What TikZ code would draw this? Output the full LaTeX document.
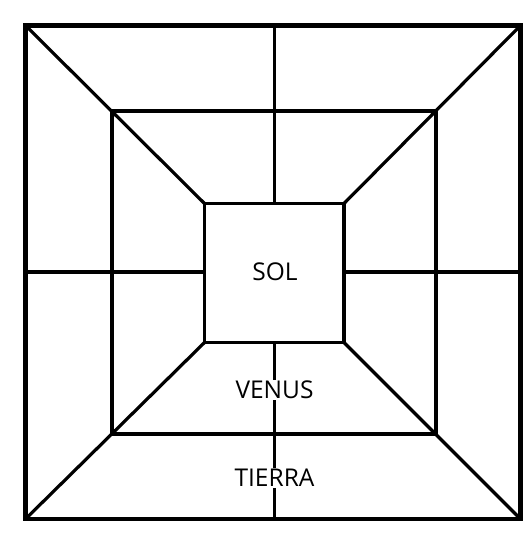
\documentclass[tikz,border=0pt]{standalone}
\usepackage{fontspec}
\setmainfont{Open Sans}
\begin{document}
\begin{tikzpicture}[x=1pt,y=-1pt,
  outer/.style={line width=4.5pt},
  thin/.style={line width=3.2pt},
  lbl/.style={font=\fontsize{24.5}{26}\selectfont, fill=white, inner sep=1pt}]
\useasboundingbox (0,0) rectangle (531,534);
% outer square corners
\coordinate (O1) at (25.5,25.5);
\coordinate (O2) at (520.5,25.5);
\coordinate (O3) at (520.5,519);
\coordinate (O4) at (25.5,519);
% middle square
\coordinate (M1) at (112,111);
\coordinate (M2) at (436,111);
\coordinate (M3) at (436,434);
\coordinate (M4) at (112,434);
% inner square
\coordinate (I1) at (204.5,203.5);
\coordinate (I2) at (344,203.5);
\coordinate (I3) at (344,342.5);
\coordinate (I4) at (204.5,342.5);
% midpoints
\coordinate (Ot) at (274.5,25.5);
\coordinate (Ob) at (274.5,519);
\coordinate (It) at (274.5,203.5);
\coordinate (Ib) at (274.5,342.5);
\coordinate (Ol) at (25.5,272);
\coordinate (Or) at (520.5,272);
\coordinate (Il) at (204.5,272);
\coordinate (Ir) at (344,272);
% diagonals
\draw[thin] (O1) -- (I1);
\draw[thin] (O2) -- (I2);
\draw[thin] (O3) -- (I3);
\draw[thin] (O4) -- (I4);
% cross lines
\draw[thin] (Ot) -- (It);
\draw[thin] (Ib) -- (Ob);
\draw[thin] (Ol) -- (Il);
\draw[thin] (Ir) -- (Or);
% squares
\draw[thin] (M1) -- (M2) -- (M3) -- (M4) -- cycle;
\draw[thin, fill=white] (I1) -- (I2) -- (I3) -- (I4) -- cycle;
\draw[outer] (O1) -- (O2) -- (O3) -- (O4) -- cycle;
% labels
\node[lbl] (sol) at (275,272) {SOL};
\node[lbl] (venus) at (274.5,390) {VENUS};
\node[lbl] (tierra) at (274.5,478) {TIERRA};
\end{tikzpicture}
\end{document}
